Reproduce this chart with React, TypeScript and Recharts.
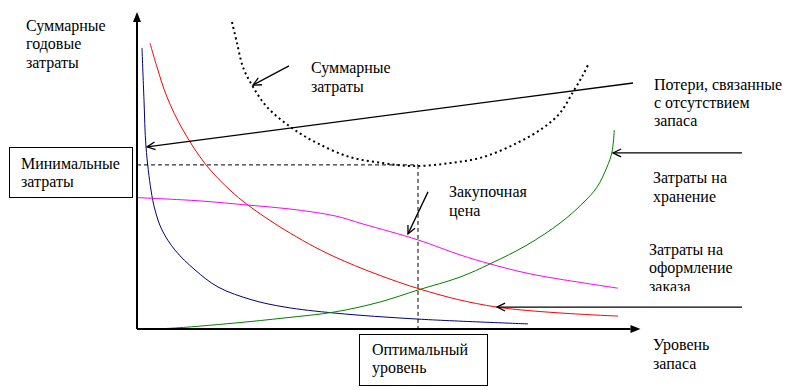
import React from "react";
import { ComposedChart, Line, XAxis, YAxis, ReferenceLine } from "recharts";

// Schematic curves: x = inventory level (0..100), y = annual cost (0..106)
const orderCost = [
  { x: 1.0, y: 93.7 }, { x: 1.4, y: 76.3 }, { x: 1.8, y: 60.7 }, { x: 2.8, y: 46.3 },
  { x: 3.6, y: 39.7 }, { x: 5.0, y: 33.0 }, { x: 7.6, y: 26.3 }, { x: 11.6, y: 19.7 },
  { x: 16.2, y: 14.0 }, { x: 23.0, y: 9.7 }, { x: 29.6, y: 7.3 }, { x: 39.6, y: 5.3 },
  { x: 56.2, y: 3.3 }, { x: 78.2, y: 1.7 },
];
const shortageLoss = [
  { x: 2.6, y: 95.3 }, { x: 4.0, y: 87.3 }, { x: 6.0, y: 77.3 }, { x: 9.2, y: 66.3 },
  { x: 13.8, y: 54.7 }, { x: 18.6, y: 46.3 }, { x: 22.2, y: 41.3 }, { x: 29.6, y: 33.0 },
  { x: 39.6, y: 24.0 }, { x: 56.6, y: 13.3 }, { x: 72.0, y: 7.3 }, { x: 96.2, y: 4.3 },
];
const purchasePrice = [
  { x: 0, y: 43.8 }, { x: 12.6, y: 42.7 }, { x: 22.2, y: 41.3 }, { x: 30.6, y: 40.0 },
  { x: 39.6, y: 37.7 }, { x: 45.2, y: 35.0 }, { x: 56.2, y: 29.7 }, { x: 64.6, y: 24.7 },
  { x: 70.6, y: 21.7 }, { x: 78.0, y: 18.6 }, { x: 84.6, y: 16.6 }, { x: 96.2, y: 13.6 },
];
const holdingCost = [
  { x: 0, y: 0 }, { x: 6.2, y: 0.2 }, { x: 19.6, y: 2.0 }, { x: 29.6, y: 3.7 },
  { x: 39.6, y: 5.7 }, { x: 48.6, y: 9.0 }, { x: 56.2, y: 13.0 }, { x: 64.6, y: 17.3 },
  { x: 70.6, y: 21.7 }, { x: 78.0, y: 28.0 }, { x: 84.6, y: 35.3 }, { x: 89.2, y: 42.0 },
  { x: 92.0, y: 47.3 }, { x: 94.0, y: 54.0 }, { x: 95.0, y: 59.0 }, { x: 95.46, y: 66.3 },
];
const totalCost = [
  { x: 19.0, y: 102.3 }, { x: 20.0, y: 95.3 }, { x: 21.2, y: 87.3 }, { x: 23.0, y: 81.3 },
  { x: 26.0, y: 74.0 }, { x: 31.0, y: 67.0 }, { x: 36.0, y: 62.0 }, { x: 42.6, y: 57.3 },
  { x: 49.2, y: 55.3 }, { x: 55.2, y: 54.3 }, { x: 62.6, y: 55.3 }, { x: 69.2, y: 57.3 },
  { x: 76.0, y: 62.0 }, { x: 81.2, y: 67.0 }, { x: 84.6, y: 72.0 }, { x: 87.2, y: 79.0 },
  { x: 89.2, y: 84.7 }, { x: 90.4, y: 88.7 },
];

const optimumLevel = 56.2;
const minimumCost = 54.7;

// Annotation arrows [from, to] in data units (arrowhead at "to")
const arrowShortage = [{ x: 99.2, y: 82.0 }, { x: 2.0, y: 60.7 }];
const arrowTotal = [{ x: 30.4, y: 87.7 }, { x: 23.2, y: 81.3 }];
const arrowPrice = [{ x: 58.2, y: 45.7 }, { x: 54.2, y: 31.7 }];
const arrowHolding = [{ x: 121, y: 58.7 }, { x: 95.2, y: 58.7 }];
const arrowOrder = [{ x: 121, y: 7.3 }, { x: 72.0, y: 7.3 }];
const xAxisArrow = [{ x: 0, y: 0 }, { x: 100.7, y: 0 }];
const yAxisArrow = [{ x: 0, y: 0 }, { x: 0, y: 105.7 }];

const FONT = "'Liberation Serif', 'Times New Roman', Tinos, 'Nimbus Roman', 'Noto Serif', FreeSerif, 'DejaVu Serif', Times, serif";

// Centripetal Catmull-Rom curve factory (smooth, passes through the points)
const catmullRom = (ctx: any) => {
  let pts: number[][] = [];
  return {
    areaStart() {},
    areaEnd() {},
    lineStart() { pts = []; },
    point(x: number, y: number) { pts.push([+x, +y]); },
    lineEnd() {
      if (!pts.length) return;
      ctx.moveTo(pts[0][0], pts[0][1]);
      const n = pts.length;
      for (let i = 0; i < n - 1; i++) {
        const p0 = pts[Math.max(0, i - 1)], p1 = pts[i], p2 = pts[i + 1], p3 = pts[Math.min(n - 1, i + 2)];
        const dist = (a: number[], b: number[]) => Math.sqrt(Math.hypot(b[0] - a[0], b[1] - a[1]));
        const d1 = dist(p0, p1), d2 = dist(p1, p2), d3 = dist(p2, p3);
        let b1 = p1, b2 = p2;
        if (d1 > 1e-6) {
          const a = 2 * d1 * d1 + 3 * d1 * d2 + d2 * d2, nn = 3 * d1 * (d1 + d2);
          b1 = [(p1[0] * a - p0[0] * d2 * d2 + p2[0] * d1 * d1) / nn, (p1[1] * a - p0[1] * d2 * d2 + p2[1] * d1 * d1) / nn];
        }
        if (d3 > 1e-6) {
          const b = 2 * d3 * d3 + 3 * d3 * d2 + d2 * d2, m = 3 * d3 * (d3 + d2);
          b2 = [(p2[0] * b + p1[0] * d3 * d3 - p3[0] * d2 * d2) / m, (p2[1] * b + p1[1] * d3 * d3 - p3[1] * d2 * d2) / m];
        }
        ctx.bezierCurveTo(b1[0], b1[1], b2[0], b2[1], p2[0], p2[1]);
      }
    },
  };
};

const openArrow = (props: any) => {
  const { x1, y1, x2, y2 } = props;
  const a = Math.atan2(y2 - y1, x2 - x1);
  const L = 9, w = 0.45;
  const p1x = x2 - L * Math.cos(a - w), p1y = y2 - L * Math.sin(a - w);
  const p2x = x2 - L * Math.cos(a + w), p2y = y2 - L * Math.sin(a + w);
  return (
    <g>
      <line x1={x1} y1={y1} x2={x2} y2={y2} stroke="#000" strokeWidth={1.3} />
      <polyline points={`${p1x},${p1y} ${x2},${y2} ${p2x},${p2y}`} fill="none" stroke="#000" strokeWidth={1.3} />
    </g>
  );
};

const filledArrow = (props: any) => {
  const { x1, y1, x2, y2 } = props;
  const a = Math.atan2(y2 - y1, x2 - x1);
  const L = 10, h = 4;
  const bx = x2 - L * Math.cos(a), by = y2 - L * Math.sin(a);
  const nx = -Math.sin(a) * h, ny = Math.cos(a) * h;
  return (
    <g>
      <line x1={x1} y1={y1} x2={bx} y2={by} stroke="#000" strokeWidth={2} />
      <polygon points={`${x2},${y2} ${bx + nx},${by + ny} ${bx - nx},${by - ny}`} fill="#000" />
    </g>
  );
};

const dashed = (props: any) => (
  <line x1={props.x1} y1={props.y1} x2={props.x2} y2={props.y2} stroke="#000" strokeWidth={1} strokeDasharray="4 3" />
);

const T = ({ x, y, lines, lh = 19 }: { x: number; y: number; lines: string[]; lh?: number }) => (
  <text x={x} y={y} style={{ fontFamily: FONT, fontSize: 16 }} fill="#000">
    {lines.map((l, i) => (
      <tspan key={i} x={x} y={y + i * lh}>{l}</tspan>
    ))}
  </text>
);

export default function App() {
  return (
    <div style={{ position: "absolute", left: 0, top: 0, width: 796, height: 390, background: "#fff", fontFamily: FONT }}>
      <ComposedChart
        width={796}
        height={390}
        margin={{ top: 11, right: 159, bottom: 61, left: 137 }}
        style={{ position: "absolute", left: 0, top: 0 }}
      >
        <XAxis type="number" dataKey="x" domain={[0, 100]} allowDataOverflow hide />
        <YAxis type="number" dataKey="y" domain={[0, 106]} allowDataOverflow hide />
        <Line data={orderCost} dataKey="y" type={catmullRom as any} stroke="#000080" strokeWidth={1} dot={false} isAnimationActive={false} />
        <Line data={shortageLoss} dataKey="y" type={catmullRom as any} stroke="#ff0000" strokeWidth={1} dot={false} isAnimationActive={false} />
        <Line data={purchasePrice} dataKey="y" type={catmullRom as any} stroke="#ff00ff" strokeWidth={1} dot={false} isAnimationActive={false} />
        <Line data={holdingCost} dataKey="y" type={catmullRom as any} stroke="#008000" strokeWidth={1} dot={false} isAnimationActive={false} />
        <Line data={totalCost} dataKey="y" type={catmullRom as any} stroke="#000" strokeWidth={2} strokeDasharray="2 3.2" dot={false} isAnimationActive={false} />
        <ReferenceLine segment={[{ x: 0, y: minimumCost }, { x: optimumLevel, y: minimumCost }]} ifOverflow="visible" shape={dashed} />
        <ReferenceLine segment={[{ x: optimumLevel, y: minimumCost }, { x: optimumLevel, y: 0 }]} ifOverflow="visible" shape={dashed} />
        <ReferenceLine segment={xAxisArrow} ifOverflow="visible" shape={filledArrow} />
        <ReferenceLine segment={yAxisArrow} ifOverflow="visible" shape={filledArrow} />
        <ReferenceLine segment={arrowShortage} ifOverflow="visible" shape={openArrow} />
        <ReferenceLine segment={arrowTotal} ifOverflow="visible" shape={openArrow} />
        <ReferenceLine segment={arrowPrice} ifOverflow="visible" shape={openArrow} />
        <ReferenceLine segment={arrowHolding} ifOverflow="visible" shape={openArrow} />
        <ReferenceLine segment={arrowOrder} ifOverflow="visible" shape={openArrow} />
      </ComposedChart>
      <svg width={796} height={390} style={{ position: "absolute", left: 0, top: 0, pointerEvents: "none" }}>
        <defs>
          <clipPath id="clipOrder">
            <rect x={600} y={230} width={196} height={61} />
          </clipPath>
        </defs>
        <T x={26} y={30.5} lines={["Суммарные", "годовые", "затраты"]} lh={18.8} />
        <T x={311} y={73} lines={["Суммарные", "затраты"]} />
        <T x={654} y={90} lines={["Потери, связанные", "с отсутствием", "запаса"]} lh={17.8} />
        <T x={653} y={183} lines={["Затраты на", "хранение"]} />
        <g clipPath="url(#clipOrder)">
          <T x={649} y={255} lines={["Затраты на", "оформление", "заказа"]} lh={18.3} />
        </g>
        <T x={449} y={197} lines={["Закупочная", "цена"]} />
        <T x={653} y={349.5} lines={["Уровень", "запаса"]} lh={19.5} />
        <rect x={9.5} y={147.5} width={123} height={50} fill="#fff" stroke="#000" strokeWidth={1} />
        <T x={21} y={168.5} lines={["Минимальные", "затраты"]} lh={18.5} />
        <rect x={359.5} y={334.5} width={128} height={51} fill="#fff" stroke="#000" strokeWidth={1} />
        <T x={372} y={355} lines={["Оптимальный", "уровень"]} lh={18} />
      </svg>
    </div>
  );
}
